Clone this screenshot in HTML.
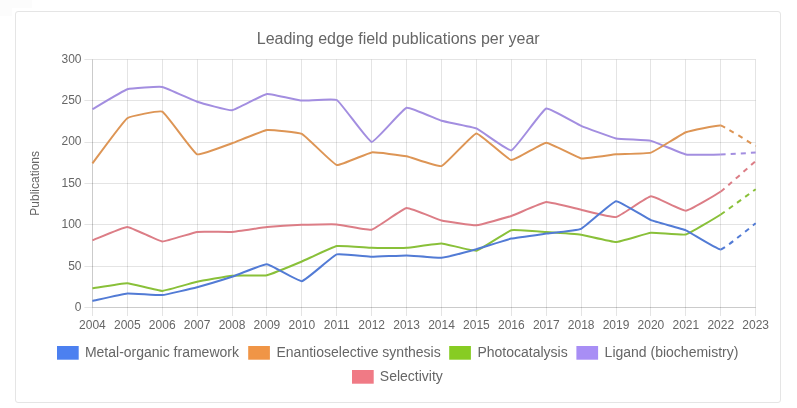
<!DOCTYPE html>
<html><head><meta charset="utf-8"><title>Leading edge field publications per year</title>
<style>
html,body{margin:0;padding:0;background:#fff;width:797px;height:408px;overflow:hidden}
.card{position:absolute;left:15px;top:11px;width:764px;height:390px;border:1px solid #e5e5e5;border-radius:3px;background:#fff}
svg{position:absolute;left:0;top:0}
text{font-family:"Liberation Sans",Arial,sans-serif;fill:#666}
.tk{font-size:12px}
.lg{font-size:14px}
.tt{font-size:16px}
.yt{font-size:12px}
</style></head><body>
<div style="position:absolute;left:0;top:0;width:32px;height:8px;background:#fcfcfc"></div><div style="position:absolute;left:0;top:8px;width:12px;height:8px;background:#fcfcfc"></div>
<div class="card"></div>
<svg width="797" height="408" viewBox="0 0 797 408">
<line x1="84.4" y1="307.50" x2="755.7" y2="307.50" stroke="rgba(0,0,0,0.105)" stroke-width="1"/>
<line x1="84.4" y1="266.50" x2="755.7" y2="266.50" stroke="rgba(0,0,0,0.105)" stroke-width="1"/>
<line x1="84.4" y1="224.50" x2="755.7" y2="224.50" stroke="rgba(0,0,0,0.105)" stroke-width="1"/>
<line x1="84.4" y1="183.50" x2="755.7" y2="183.50" stroke="rgba(0,0,0,0.105)" stroke-width="1"/>
<line x1="84.4" y1="142.50" x2="755.7" y2="142.50" stroke="rgba(0,0,0,0.105)" stroke-width="1"/>
<line x1="84.4" y1="100.50" x2="755.7" y2="100.50" stroke="rgba(0,0,0,0.105)" stroke-width="1"/>
<line x1="84.4" y1="59.50" x2="755.7" y2="59.50" stroke="rgba(0,0,0,0.105)" stroke-width="1"/>
<line x1="92.50" y1="59.5" x2="92.50" y2="316" stroke="rgba(0,0,0,0.105)" stroke-width="1"/>
<line x1="127.50" y1="59.5" x2="127.50" y2="316" stroke="rgba(0,0,0,0.105)" stroke-width="1"/>
<line x1="162.50" y1="59.5" x2="162.50" y2="316" stroke="rgba(0,0,0,0.105)" stroke-width="1"/>
<line x1="197.50" y1="59.5" x2="197.50" y2="316" stroke="rgba(0,0,0,0.105)" stroke-width="1"/>
<line x1="232.50" y1="59.5" x2="232.50" y2="316" stroke="rgba(0,0,0,0.105)" stroke-width="1"/>
<line x1="266.50" y1="59.5" x2="266.50" y2="316" stroke="rgba(0,0,0,0.105)" stroke-width="1"/>
<line x1="301.50" y1="59.5" x2="301.50" y2="316" stroke="rgba(0,0,0,0.105)" stroke-width="1"/>
<line x1="336.50" y1="59.5" x2="336.50" y2="316" stroke="rgba(0,0,0,0.105)" stroke-width="1"/>
<line x1="371.50" y1="59.5" x2="371.50" y2="316" stroke="rgba(0,0,0,0.105)" stroke-width="1"/>
<line x1="406.50" y1="59.5" x2="406.50" y2="316" stroke="rgba(0,0,0,0.105)" stroke-width="1"/>
<line x1="441.50" y1="59.5" x2="441.50" y2="316" stroke="rgba(0,0,0,0.105)" stroke-width="1"/>
<line x1="476.50" y1="59.5" x2="476.50" y2="316" stroke="rgba(0,0,0,0.105)" stroke-width="1"/>
<line x1="511.50" y1="59.5" x2="511.50" y2="316" stroke="rgba(0,0,0,0.105)" stroke-width="1"/>
<line x1="546.50" y1="59.5" x2="546.50" y2="316" stroke="rgba(0,0,0,0.105)" stroke-width="1"/>
<line x1="581.50" y1="59.5" x2="581.50" y2="316" stroke="rgba(0,0,0,0.105)" stroke-width="1"/>
<line x1="616.50" y1="59.5" x2="616.50" y2="316" stroke="rgba(0,0,0,0.105)" stroke-width="1"/>
<line x1="650.50" y1="59.5" x2="650.50" y2="316" stroke="rgba(0,0,0,0.105)" stroke-width="1"/>
<line x1="685.50" y1="59.5" x2="685.50" y2="316" stroke="rgba(0,0,0,0.105)" stroke-width="1"/>
<line x1="720.50" y1="59.5" x2="720.50" y2="316" stroke="rgba(0,0,0,0.105)" stroke-width="1"/>
<line x1="755.50" y1="59.5" x2="755.50" y2="316" stroke="rgba(0,0,0,0.105)" stroke-width="1"/>
<line x1="92.5" y1="59.5" x2="92.5" y2="307.5" stroke="rgba(0,0,0,0.105)" stroke-width="1"/>
<line x1="92.5" y1="307.5" x2="755.7" y2="307.5" stroke="rgba(0,0,0,0.105)" stroke-width="1"/>
<text x="81.5" y="310.80" text-anchor="end" class="tk">0</text>
<text x="81.5" y="270.47" text-anchor="end" class="tk">50</text>
<text x="81.5" y="228.13" text-anchor="end" class="tk">100</text>
<text x="81.5" y="186.80" text-anchor="end" class="tk">150</text>
<text x="81.5" y="145.47" text-anchor="end" class="tk">200</text>
<text x="81.5" y="104.13" text-anchor="end" class="tk">250</text>
<text x="81.5" y="62.80" text-anchor="end" class="tk">300</text>
<text x="92.40" y="328.8" text-anchor="middle" class="tk">2004</text>
<text x="127.31" y="328.8" text-anchor="middle" class="tk">2005</text>
<text x="162.22" y="328.8" text-anchor="middle" class="tk">2006</text>
<text x="197.13" y="328.8" text-anchor="middle" class="tk">2007</text>
<text x="232.04" y="328.8" text-anchor="middle" class="tk">2008</text>
<text x="266.95" y="328.8" text-anchor="middle" class="tk">2009</text>
<text x="301.86" y="328.8" text-anchor="middle" class="tk">2010</text>
<text x="336.77" y="328.8" text-anchor="middle" class="tk">2011</text>
<text x="371.68" y="328.8" text-anchor="middle" class="tk">2012</text>
<text x="406.59" y="328.8" text-anchor="middle" class="tk">2013</text>
<text x="441.50" y="328.8" text-anchor="middle" class="tk">2014</text>
<text x="476.41" y="328.8" text-anchor="middle" class="tk">2015</text>
<text x="511.32" y="328.8" text-anchor="middle" class="tk">2016</text>
<text x="546.23" y="328.8" text-anchor="middle" class="tk">2017</text>
<text x="581.14" y="328.8" text-anchor="middle" class="tk">2018</text>
<text x="616.05" y="328.8" text-anchor="middle" class="tk">2019</text>
<text x="650.96" y="328.8" text-anchor="middle" class="tk">2020</text>
<text x="685.87" y="328.8" text-anchor="middle" class="tk">2021</text>
<text x="720.78" y="328.8" text-anchor="middle" class="tk">2022</text>
<text x="755.69" y="328.8" text-anchor="middle" class="tk">2023</text>
<path d="M92.40,240.30 C95.89,238.96 123.84,226.85 127.31,226.90 C130.82,226.96 158.65,241.14 162.22,241.40 C165.63,241.64 193.58,232.38 197.13,231.90 C200.56,231.43 228.57,232.14 232.04,231.90 C235.55,231.66 263.45,227.46 266.95,227.10 C270.43,226.74 298.36,224.84 301.86,224.70 C305.35,224.57 333.30,224.15 336.77,224.40 C340.28,224.65 368.45,230.45 371.68,229.70 C375.43,228.82 402.92,208.58 406.59,208.10 C409.90,207.66 437.92,219.62 441.50,220.50 C444.90,221.34 472.96,225.52 476.41,225.30 C479.94,225.07 507.90,217.14 511.32,216.00 C514.88,214.82 542.65,202.42 546.23,202.10 C549.63,201.80 577.64,209.05 581.14,209.80 C584.63,210.55 612.79,217.73 616.05,217.10 C619.77,216.38 647.34,196.63 650.96,196.30 C654.32,195.99 682.47,210.93 685.87,210.70 C689.45,210.45 717.55,193.80 720.78,191.50" fill="none" stroke="#dc7d86" stroke-width="2" stroke-linejoin="round" stroke-linecap="butt"/>
<path d="M720.78,191.50 C724.53,188.83 752.20,164.05 755.69,161.00" fill="none" stroke="#dc7d86" stroke-width="2" stroke-dasharray="5 5"/>
<path d="M92.40,109.20 C95.89,107.20 123.58,90.39 127.31,89.20 C130.56,88.17 158.87,86.40 162.22,87.00 C165.85,87.66 193.55,100.60 197.13,101.80 C200.53,102.93 228.67,110.68 232.04,110.30 C235.65,109.89 263.32,94.40 266.95,93.90 C270.30,93.43 298.34,100.29 301.86,100.60 C305.32,100.90 334.04,98.39 336.77,100.00 C341.03,102.52 368.00,141.49 371.68,141.90 C374.98,142.27 402.63,109.00 406.59,107.80 C409.61,106.88 437.94,119.65 441.50,120.70 C444.92,121.71 473.17,127.02 476.41,128.40 C480.15,129.99 508.31,151.26 511.32,150.40 C515.29,149.27 542.16,109.93 546.23,108.50 C549.14,107.48 577.56,124.37 581.14,125.90 C584.54,127.36 612.46,137.63 616.05,138.40 C619.44,139.13 647.59,140.13 650.96,140.90 C654.57,141.73 682.26,153.70 685.87,154.40 C689.24,155.05 717.29,154.49 720.78,154.40" fill="none" stroke="#a38ee0" stroke-width="2" stroke-linejoin="round" stroke-linecap="butt"/>
<path d="M720.78,154.40 C724.27,154.31 752.20,152.78 755.69,152.60" fill="none" stroke="#a38ee0" stroke-width="2" stroke-dasharray="5 5"/>
<path d="M92.40,288.30 C95.89,287.79 123.84,283.07 127.31,283.20 C130.82,283.33 158.75,290.97 162.22,290.90 C165.73,290.82 193.61,282.47 197.13,281.70 C200.59,280.95 228.52,276.03 232.04,275.70 C235.51,275.38 263.58,275.88 266.95,275.20 C270.57,274.46 298.40,262.95 301.86,261.50 C305.38,260.03 333.12,246.72 336.77,246.00 C340.11,245.35 368.19,247.71 371.68,247.80 C375.17,247.89 403.11,248.02 406.59,247.80 C410.09,247.58 438.03,243.26 441.50,243.40 C445.01,243.55 473.14,251.32 476.41,250.70 C480.12,250.00 507.57,231.20 511.32,230.20 C514.56,229.34 542.74,231.88 546.23,232.10 C549.72,232.33 577.68,234.21 581.14,234.70 C584.66,235.20 612.58,242.09 616.05,242.00 C619.56,241.90 647.41,233.18 650.96,232.80 C654.39,232.43 682.62,235.35 685.87,234.50 C689.61,233.52 717.41,216.69 720.78,214.50" fill="none" stroke="#89c039" stroke-width="2" stroke-linejoin="round" stroke-linecap="butt"/>
<path d="M720.78,214.50 C724.39,212.16 752.20,191.73 755.69,189.20" fill="none" stroke="#89c039" stroke-width="2" stroke-dasharray="5 5"/>
<path d="M92.40,163.40 C95.89,158.88 123.01,121.39 127.31,118.20 C129.99,116.21 159.48,110.19 162.22,111.60 C166.47,113.80 192.93,152.39 197.13,154.30 C199.92,155.56 228.58,144.50 232.04,143.30 C235.57,142.07 263.35,130.49 266.95,130.00 C270.33,129.54 298.87,132.30 301.86,133.80 C305.85,135.80 332.88,163.96 336.77,165.00 C339.86,165.82 368.09,152.85 371.68,152.40 C375.07,151.97 403.16,155.53 406.59,156.20 C410.14,156.90 438.49,167.08 441.50,166.10 C445.47,164.80 472.77,133.71 476.41,133.40 C479.75,133.11 507.62,159.61 511.32,160.10 C514.60,160.54 542.71,142.79 546.23,142.70 C549.69,142.62 577.50,157.80 581.14,158.40 C584.48,158.96 612.55,154.59 616.05,154.30 C619.53,154.01 647.72,153.62 650.96,152.60 C654.70,151.42 682.16,133.74 685.87,132.30 C689.14,131.04 717.52,124.95 720.78,125.60" fill="none" stroke="#dd9555" stroke-width="2" stroke-linejoin="round" stroke-linecap="butt"/>
<path d="M720.78,125.60 C724.50,126.33 752.20,144.05 755.69,146.10" fill="none" stroke="#dd9555" stroke-width="2" stroke-dasharray="5 5"/>
<path d="M92.40,300.90 C95.89,300.15 123.78,293.69 127.31,293.40 C130.76,293.11 158.77,295.41 162.22,295.10 C165.75,294.79 193.67,288.11 197.13,287.20 C200.65,286.28 228.58,277.93 232.04,276.80 C235.56,275.64 263.54,264.08 266.95,264.30 C270.52,264.52 298.59,281.66 301.86,281.20 C305.57,280.67 332.88,255.76 336.77,254.40 C339.86,253.32 368.19,256.75 371.68,256.80 C375.17,256.85 403.10,255.35 406.59,255.40 C410.08,255.45 438.06,258.11 441.50,257.80 C445.04,257.49 472.94,250.15 476.41,249.20 C479.93,248.23 507.77,239.39 511.32,238.60 C514.75,237.83 542.74,234.09 546.23,233.60 C549.72,233.11 578.05,230.23 581.14,228.80 C585.04,226.99 612.36,201.65 616.05,201.20 C619.34,200.79 647.31,218.68 650.96,220.20 C654.29,221.59 682.54,228.91 685.87,230.30 C689.52,231.83 717.45,249.73 720.78,249.40" fill="none" stroke="#527bd5" stroke-width="2" stroke-linejoin="round" stroke-linecap="butt"/>
<path d="M720.78,249.40 C724.43,249.03 752.20,225.91 755.69,223.30" fill="none" stroke="#527bd5" stroke-width="2" stroke-dasharray="5 5"/>
<rect x="57.0" y="346.0" width="21.7" height="13.7" fill="#4c80f0"/>
<text x="84.9" y="356.80" class="lg">Metal-organic framework</text>
<rect x="248.2" y="346.0" width="21.7" height="13.7" fill="#f09546"/>
<text x="276.5" y="356.80" class="lg">Enantioselective synthesis</text>
<rect x="449.2" y="346.0" width="21.7" height="13.7" fill="#87cc23"/>
<text x="477.4" y="356.80" class="lg">Photocatalysis</text>
<rect x="576.4" y="346.0" width="21.7" height="13.7" fill="#a88ef5"/>
<text x="604.6" y="356.80" class="lg">Ligand (biochemistry)</text>
<rect x="352.0" y="370.0" width="21.7" height="13.7" fill="#f07a85"/>
<text x="379.79999999999995" y="380.80" class="lg">Selectivity</text>
<text x="398.2" y="43.7" text-anchor="middle" class="tt">Leading edge field publications per year</text>
<text transform="translate(38.8,183.3) rotate(-90)" text-anchor="middle" class="yt">Publications</text>
</svg>
</body></html>
